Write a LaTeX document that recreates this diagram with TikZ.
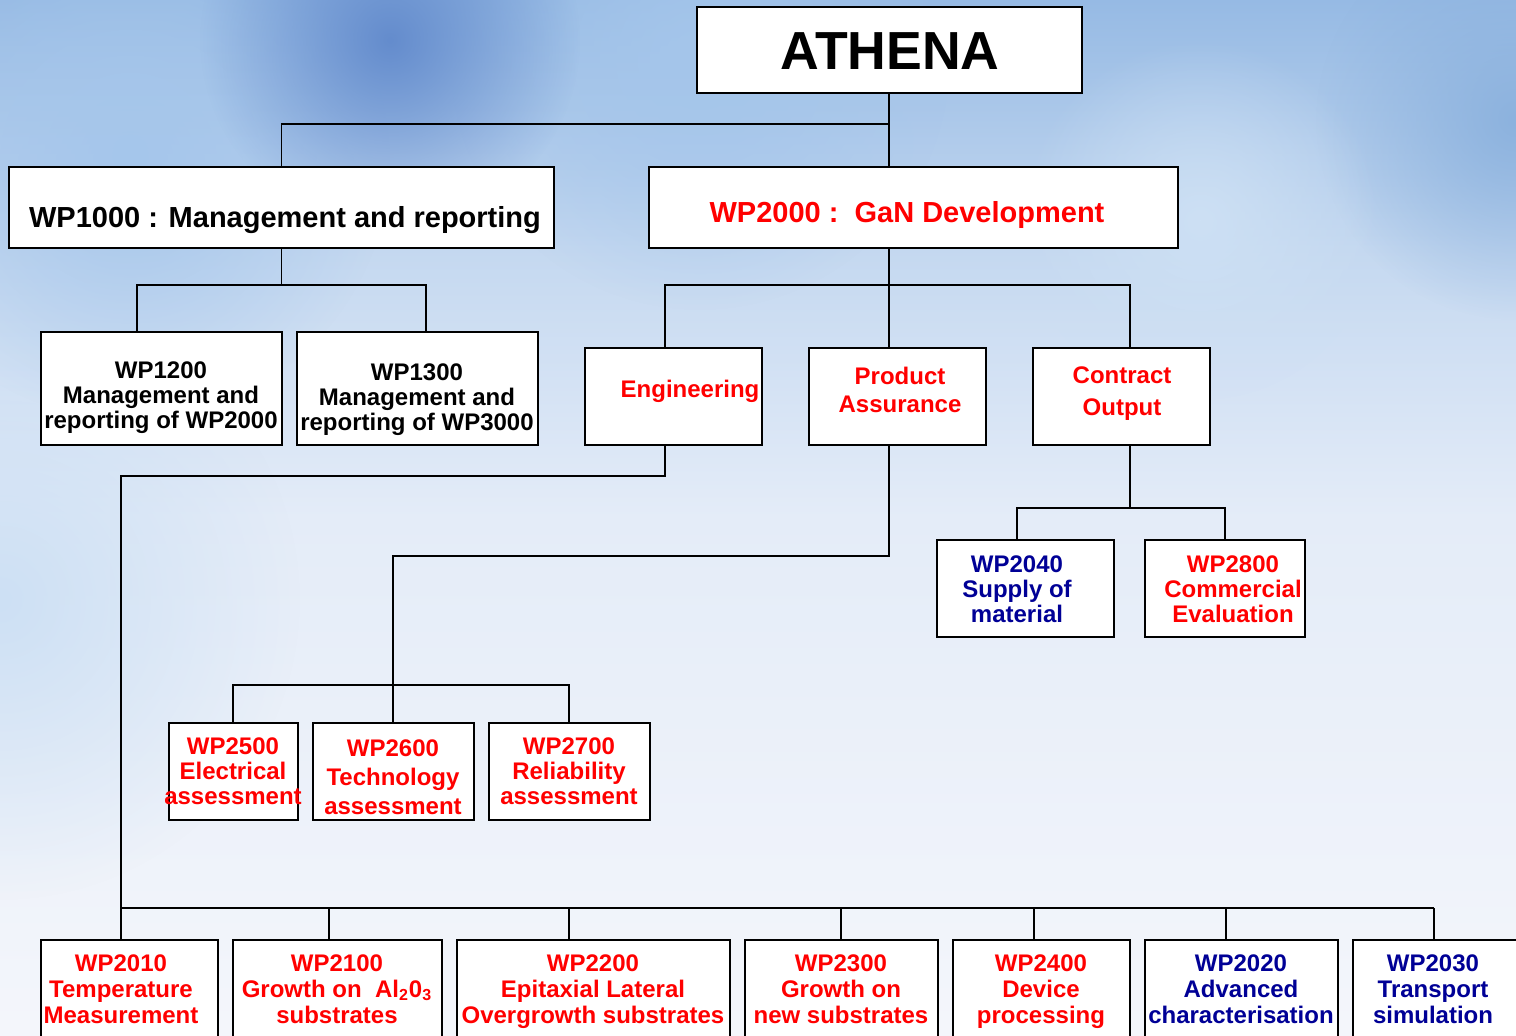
\documentclass[tikz,border=0pt]{standalone}
\usepackage{fontspec}
\setmainfont{Liberation Sans}
\usetikzlibrary{fit,fadings}
\definecolor{wpred}{RGB}{255,0,0}
\definecolor{wpnavy}{RGB}{0,0,150}
\definecolor{skyT}{RGB}{150,186,228}
\definecolor{skyM}{RGB}{196,216,240}
\definecolor{skyW2}{RGB}{228,236,248}
\definecolor{skyW}{RGB}{244,246,251}
\definecolor{blobA}{RGB}{100,140,205}
\definecolor{blobB}{RGB}{165,198,235}
\definecolor{blobC}{RGB}{140,178,222}
\definecolor{blobD}{RGB}{205,224,244}
\pgfdeclareverticalshading{skyshade}{100bp}{color(0bp)=(skyW); color(25bp)=(skyW); color(50bp)=(skyW2); color(63bp)=(skyM); color(75bp)=(skyT); color(100bp)=(skyT)}
\tikzfading[name=blobfade, inner color=transparent!0, outer color=transparent!100]
\tikzset{
  box/.style={draw=black, line width=1pt, fill=white, inner sep=0pt},
  txt/.style={inner sep=0pt, align=center, text depth=0pt, font=\bfseries\fontsize{12}{12.5}\selectfont},
  conn/.style={draw=black, line width=0.8pt},
  red/.style={text=wpred},
  navy/.style={text=wpnavy}
}
\begin{document}
\begin{tikzpicture}[x=0.5pt,y=-0.5pt]
\useasboundingbox (0,0) rectangle (1516,1036);
\clip (0,0) rectangle (1516,1036);
% background sky
\shade[shading=skyshade] (0,0) rectangle (1516,1036);
\fill[blobD, path fading=blobfade] (0,600) circle (300);
\fill[blobB, path fading=blobfade] (130,160) circle (260);
\fill[blobC, path fading=blobfade] (1516,120) circle (200);
\fill[blobB, path fading=blobfade] (700,60) circle (250);
\fill[blobA, path fading=blobfade] (390,40) circle (190);
\fill[blobD, path fading=blobfade] (1200,220) circle (180);

% boxes
\node[box, fit={(697,7) (1082,93)}] (athena) {};
\node[box, fit={(9,167) (554,248)}] (wp1000) {};
\node[box, fit={(649,167) (1178,248)}] (wp2000) {};
\node[box, fit={(41,332) (282,445)}] (wp1200) {};
\node[box, fit={(297,332) (538,445)}] (wp1300) {};
\node[box, fit={(585,348) (762,445)}] (eng) {};
\node[box, fit={(809,348) (986,445)}] (pa) {};
\node[box, fit={(1033,348) (1210,445)}] (co) {};
\node[box, fit={(937,540) (1114,637)}] (wp2040) {};
\node[box, fit={(1145,540) (1305,637)}] (wp2800) {};
\node[box, fit={(169,723) (298,820)}] (wp2500) {};
\node[box, fit={(313,723) (474,820)}] (wp2600) {};
\node[box, fit={(489,723) (650,820)}] (wp2700) {};
\node[box, fit={(41,940) (218,1060)}] (wp2010) {};
\node[box, fit={(233,940) (442,1060)}] (wp2100) {};
\node[box, fit={(457,940) (730,1060)}] (wp2200) {};
\node[box, fit={(745,940) (938,1060)}] (wp2300) {};
\node[box, fit={(953,940) (1130,1060)}] (wp2400) {};
\node[box, fit={(1145,940) (1338,1060)}] (wp2020) {};
\node[box, fit={(1353,940) (1560,1060)}] (wp2030) {};

% junction coordinates
\coordinate (j0) at (889,124);
\coordinate (b1) at (137,285);
\coordinate (b2) at (426,285);
\coordinate (c1) at (665,285);
\coordinate (c2) at (1130,285);
\coordinate (e1) at (121,476);
\coordinate (bus1) at (121,908);
\coordinate (bus2) at (1434,908);
\coordinate (p1) at (393,556);
\coordinate (p2) at (393,685);
\coordinate (q1) at (233,685);
\coordinate (q2) at (569,685);
\coordinate (k1) at (1017,508);
\coordinate (k2) at (1225,508);

% connectors
\draw[conn] (j0 |- athena.south) -- (j0 |- wp2000.north);
\draw[conn] (wp1000.north) |- (j0);
\draw[conn] (wp1000.south) -- (wp1000.south |- b1);
\draw[conn] (b1 |- wp1200.north) -- (b1) -- (b2) -- (b2 |- wp1300.north);
\draw[conn] (j0 |- wp2000.south) -- (j0 |- pa.north);
\draw[conn] (c1 |- eng.north) -- (c1) -- (c2) -- (c2 |- co.north);
\draw[conn] (c1 |- eng.south) |- (e1) -- (bus1) -- (bus2);
\foreach \xx/\nn in {121/wp2010, 329/wp2100, 569/wp2200, 841/wp2300, 1034/wp2400, 1226/wp2020, 1434/wp2030}
  \draw[conn] (\xx,908) -- (\xx,908 |- \nn.north);
\draw[conn] (j0 |- pa.south) |- (p1) -- (p2);
\draw[conn] (q1 |- wp2500.north) -- (q1) -- (q2) -- (q2 |- wp2700.north);
\draw[conn] (p2) -- (p2 |- wp2600.north);
\draw[conn] (c2 |- co.south) -- (c2 |- k1);
\draw[conn] (k1 |- wp2040.north) -- (k1) -- (k2) -- (k2 |- wp2800.north);

% texts
\node[txt, font=\bfseries\fontsize{26.8}{28}\selectfont] (t-athena) at (890,51) {ATHENA};
\node[txt, font=\bfseries\fontsize{14.5}{16}\selectfont] (t-wp1000) at (285,217) {WP1000 : Management and reporting};
\node[txt, red, font=\bfseries\fontsize{14.5}{16}\selectfont] (t-wp2000) at (907,212) {WP2000 :\ \ GaN Development};
\node[txt] (t-wp1200) at (161,395) {WP1200\\Management and\\reporting of WP2000};
\node[txt] (t-wp1300) at (417,397) {WP1300\\Management and\\reporting of WP3000};
\node[txt, red] (t-eng) at (690,389) {Engineering};
\node[txt, red, font=\bfseries\fontsize{12}{14}\selectfont] (t-pa) at (900,390) {Product\\Assurance};
\node[txt, red, font=\bfseries\fontsize{12}{16}\selectfont] (t-co) at (1122,391) {Contract\\Output};
\node[txt, navy] (t-wp2040) at (1017,589) {WP2040\\Supply of\\material};
\node[txt, red] (t-wp2800) at (1233,589) {WP2800\\Commercial\\Evaluation};
\node[txt, red] (t-wp2500) at (233,771) {WP2500\\Electrical\\assessment};
\node[txt, red, font=\bfseries\fontsize{12}{14.5}\selectfont] (t-wp2600) at (393,777) {WP2600\\Technology\\assessment};
\node[txt, red] (t-wp2700) at (569,771) {WP2700\\Reliability\\assessment};
\node[txt, red, font=\bfseries\fontsize{12}{13}\selectfont] (t-wp2010) at (121,989) {WP2010\\Temperature\\Measurement};
\node[txt, red, font=\bfseries\fontsize{12}{13}\selectfont] (t-wp2100) at (337,989) {WP2100\\Growth on\ \ Al\textsubscript{2}0\textsubscript{3}\\substrates};
\node[txt, red, font=\bfseries\fontsize{12}{13}\selectfont] (t-wp2200) at (593,989) {WP2200\\Epitaxial Lateral\\Overgrowth substrates};
\node[txt, red, font=\bfseries\fontsize{12}{13}\selectfont] (t-wp2300) at (841,989) {WP2300\\Growth on\\new substrates};
\node[txt, red, font=\bfseries\fontsize{12}{13}\selectfont] (t-wp2400) at (1041,989) {WP2400\\Device\\processing};
\node[txt, navy, font=\bfseries\fontsize{12}{13}\selectfont] (t-wp2020) at (1241,989) {WP2020\\Advanced\\characterisation};
\node[txt, navy, font=\bfseries\fontsize{12}{13}\selectfont] (t-wp2030) at (1433,989) {WP2030\\Transport\\simulation};
\end{tikzpicture}
\end{document}
